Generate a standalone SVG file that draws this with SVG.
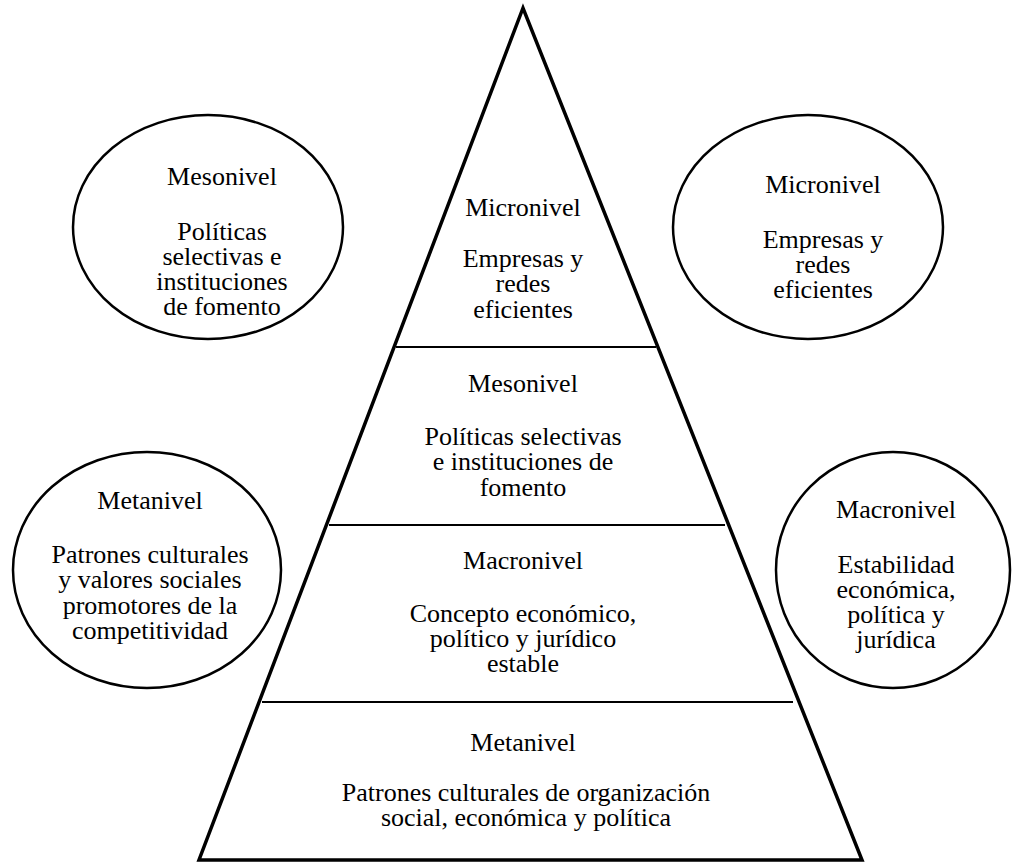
<svg xmlns="http://www.w3.org/2000/svg" width="1013" height="863" viewBox="0 0 1013 863">
<style>
.t{font-family:"Liberation Serif","Times New Roman",serif;font-size:26px;fill:#000;text-anchor:middle}
.sh{fill:#fff;stroke:#000;stroke-width:2.5}
.ln{stroke:#000;stroke-width:2;fill:none}
</style>
<rect width="1013" height="863" fill="#fff"/>
<g id="pyramid">
<polygon points="523,8 199,860 862,860" fill="#fff" stroke="#000" stroke-width="3.5" stroke-linejoin="miter"/>
</g>
<g id="connectors">
<line class="ln" x1="396" y1="347" x2="656" y2="347"/>
<line class="ln" x1="329" y1="525" x2="725" y2="525"/>
<line class="ln" x1="262" y1="702" x2="793" y2="702"/>
</g>
<g id="pyr-micro">
<text class="t" x="523" y="216">Micronivel</text>
<text class="t" x="523" y="267">Empresas y</text>
<text class="t" x="523" y="292">redes</text>
<text class="t" x="523" y="318">eficientes</text>
</g>
<g id="pyr-meso">
<text class="t" x="523" y="392">Mesonivel</text>
<text class="t" x="523" y="445">Políticas selectivas</text>
<text class="t" x="523" y="470">e instituciones de</text>
<text class="t" x="523" y="496">fomento</text>
</g>
<g id="pyr-macro">
<text class="t" x="523" y="569">Macronivel</text>
<text class="t" x="523" y="622">Concepto económico,</text>
<text class="t" x="523" y="647">político y jurídico</text>
<text class="t" x="523" y="672">estable</text>
</g>
<g id="pyr-meta">
<text class="t" x="523" y="751">Metanivel</text>
<text class="t" x="526" y="801">Patrones culturales de organización</text>
<text class="t" x="526" y="826">social, económica y política</text>
</g>
<g id="ell-meso">
<ellipse class="sh" cx="208" cy="227" rx="135" ry="112"/>
<text class="t" x="222" y="185">Mesonivel</text>
<text class="t" x="222" y="240">Políticas</text>
<text class="t" x="222" y="265">selectivas e</text>
<text class="t" x="222" y="290">instituciones</text>
<text class="t" x="222" y="315">de fomento</text>
</g>
<g id="ell-micro">
<ellipse class="sh" cx="808" cy="227" rx="135" ry="112"/>
<text class="t" x="823" y="193">Micronivel</text>
<text class="t" x="823" y="248">Empresas y</text>
<text class="t" x="823" y="273">redes</text>
<text class="t" x="823" y="298">eficientes</text>
</g>
<g id="ell-meta">
<ellipse class="sh" cx="147" cy="570" rx="134" ry="118"/>
<text class="t" x="150" y="509">Metanivel</text>
<text class="t" x="150" y="563">Patrones culturales</text>
<text class="t" x="150" y="588">y valores sociales</text>
<text class="t" x="150" y="614">promotores de la</text>
<text class="t" x="150" y="639">competitividad</text>
</g>
<g id="ell-macro">
<ellipse class="sh" cx="893" cy="570" rx="117" ry="118"/>
<text class="t" x="896" y="518">Macronivel</text>
<text class="t" x="896" y="573">Estabilidad</text>
<text class="t" x="896" y="598">económica,</text>
<text class="t" x="896" y="623">política y</text>
<text class="t" x="896" y="648">jurídica</text>
</g>
</svg>
